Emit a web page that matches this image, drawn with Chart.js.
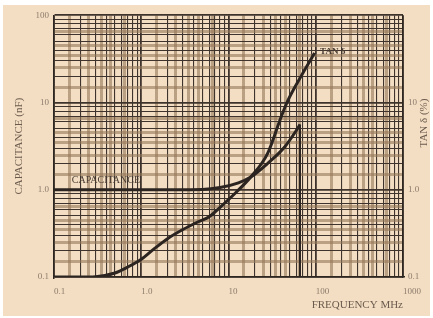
<!DOCTYPE html>
<html>
<head>
<meta charset="utf-8">
<script src="https://cdn.jsdelivr.net/npm/chart.js@4/dist/chart.umd.min.js"></script>
<style>
  html, body { margin: 0; padding: 0; background: #ffffff; }
  #wrap { position: absolute; left: 3px; top: 5px; width: 427px; height: 311px; background: #f3dec3; }
</style>
</head>
<body>
<div id="wrap"><canvas id="c" width="427" height="311"></canvas></div>
<script>
// TAN delta curve
var tanFreq = [0.1, 0.2, 0.3, 0.5, 0.7, 1.0, 1.4, 2.0, 3.0, 4.5, 6.0, 8.0, 12, 18, 28, 40, 48, 67, 97];
var tanVal  = [0.1, 0.1, 0.101, 0.111, 0.13, 0.16, 0.21, 0.275, 0.35, 0.43, 0.49, 0.63, 0.92, 1.4, 2.6, 6.8, 10.6, 19.6, 37];
// capacitance curve
var capFreq = [0.1, 1, 5, 8, 13, 18, 28, 44, 60, 66];
var capVal  = [1.0, 1.0, 1.01, 1.06, 1.2, 1.4, 2.0, 3.1, 4.8, 5.6];
// self resonance drop
var dropFreq = [66, 66];
var dropVal  = [5.6, 0.1];

var xTickVals = [0.1, 1, 10, 100, 1000];
var xTickLabels = ['0.1', '1.0', '10', '100', '1000'];
var yTickVals = [0.1, 1, 10, 100];
var yTickLabels = ['0.1', '1.0', '10', '100'];
var y2TickLabels = ['0.1', '1.0', '10', ''];

// grid paper: dark rules and lighter bands in each decade
var darkMults = [1, 2, 3, 4, 5, 6, 7, 8, 9];
var bandMults = [1.5, 2.5, 3.5, 4.5, 6.5];

function pts(xs, ys) {
  return xs.map(function (x, i) { return { x: x, y: ys[i] }; });
}

function gridTicks(from, to) {
  var bands = [], dark = [];
  for (var d = from; d < to * 0.999; d *= 10) {
    bandMults.forEach(function (m) { bands.push({ value: +(d * m).toPrecision(3), band: true }); });
    darkMults.forEach(function (m) { dark.push({ value: +(d * m).toPrecision(3) }); });
  }
  dark.push({ value: to });
  return bands.concat(dark);
}

function isDecade(v) {
  var l = Math.log10(v);
  return Math.abs(l - Math.round(l)) < 1e-6;
}

function labelFor(vals, labels) {
  return function (value) {
    for (var i = 0; i < vals.length; i++) {
      if (Math.abs(value - vals[i]) < vals[i] * 1e-6) return labels[i];
    }
    return '';
  };
}

function gridColor(ctx) {
  if (!ctx.tick) return '#3f342d';
  if (ctx.tick.band) return 'rgba(150,120,90,0.6)';
  return '#3f342d';
}
function gridWidth(ctx) {
  if (!ctx.tick) return 1;
  if (ctx.tick.band) return 3;
  return isDecade(ctx.tick.value) ? 1.8 : 1.1;
}

var tickFont = { family: 'Liberation Serif', size: 9 };
var tickColor = '#8c7b6b';
var lineColor = '#2b2420';

var textPlugin = {
  id: 'labels',
  afterDatasetsDraw: function (chart) {
    var c = chart.ctx, x = chart.scales.x, y = chart.scales.y;
    c.save();
    c.fillStyle = '#4a3d33';
    c.font = '10px "Liberation Serif"';
    c.textBaseline = 'middle';
    c.fillText('CAPACITANCE', x.getPixelForValue(0.16), y.getPixelForValue(1.27));
    c.font = 'bold 9px "Liberation Serif"';
    c.fillText('TAN δ', x.getPixelForValue(112), y.getPixelForValue(38));
    // right axis title reads bottom to top
    c.fillStyle = '#6b5b4d';
    c.font = '11px "Liberation Serif"';
    c.translate(chart.width - 6, 118);
    c.rotate(-Math.PI / 2);
    c.textAlign = 'center';
    c.fillText('TAN δ (%)', 0, 0);
    c.restore();
  }
};

new Chart(document.getElementById('c'), {
  type: 'scatter',
  data: {
    datasets: [
      { label: 'TAN δ', data: pts(tanFreq, tanVal), showLine: true, borderColor: lineColor, borderWidth: 3, pointRadius: 0, cubicInterpolationMode: 'monotone' },
      { label: 'CAPACITANCE', data: pts(capFreq, capVal), showLine: true, borderColor: lineColor, borderWidth: 3, pointRadius: 0, cubicInterpolationMode: 'monotone' },
      { label: 'drop', data: pts(dropFreq, dropVal), showLine: true, borderColor: lineColor, borderWidth: 2, pointRadius: 0, tension: 0 }
    ]
  },
  options: {
    responsive: false,
    animation: false,
    layout: { padding: { top: 10, left: 0, right: 0, bottom: 0 } },
    plugins: { legend: { display: false }, tooltip: { enabled: false } },
    scales: {
      x: {
        type: 'logarithmic', min: 0.1, max: 1000,
        afterBuildTicks: function (s) { s.ticks = gridTicks(0.1, 1000); },
        afterFit: function (s) { s.height = 39; },
        grid: { drawTicks: false, color: gridColor, lineWidth: gridWidth },
        border: { color: '#2e2620', width: 1.5 },
        ticks: { autoSkip: false, maxRotation: 0, align: 'start', padding: 9, font: tickFont, color: tickColor,
                 callback: labelFor(xTickVals, xTickLabels) },
        title: { display: true, text: 'FREQUENCY MHz', align: 'end', color: '#6b5b4d',
                 font: { family: 'Liberation Serif', size: 11 }, padding: { top: 0, bottom: 4 } }
      },
      y: {
        type: 'logarithmic', min: 0.1, max: 100,
        afterBuildTicks: function (s) { s.ticks = gridTicks(0.1, 100); },
        afterFit: function (s) { s.width = 51; },
        grid: { drawTicks: false, color: gridColor, lineWidth: gridWidth },
        border: { color: '#2e2620', width: 1.5 },
        ticks: { autoSkip: false, padding: 5, font: tickFont, color: tickColor,
                 callback: labelFor(yTickVals, yTickLabels) },
        title: { display: true, text: 'CAPACITANCE (nF)', color: '#6b5b4d',
                 font: { family: 'Liberation Serif', size: 11 }, padding: { top: 10, bottom: 0 } }
      },
      y2: {
        type: 'logarithmic', position: 'right', min: 0.1, max: 100,
        afterBuildTicks: function (s) { s.ticks = yTickVals.map(function (v) { return { value: v }; }); },
        afterFit: function (s) { s.width = 25; },
        grid: { drawOnChartArea: false, drawTicks: false },
        border: { color: '#2e2620', width: 1.5 },
        ticks: { autoSkip: false, padding: 5, font: tickFont, color: tickColor,
                 callback: labelFor(yTickVals, y2TickLabels) }
      }
    }
  },
  plugins: [textPlugin]
});
</script>
</body>
</html>
